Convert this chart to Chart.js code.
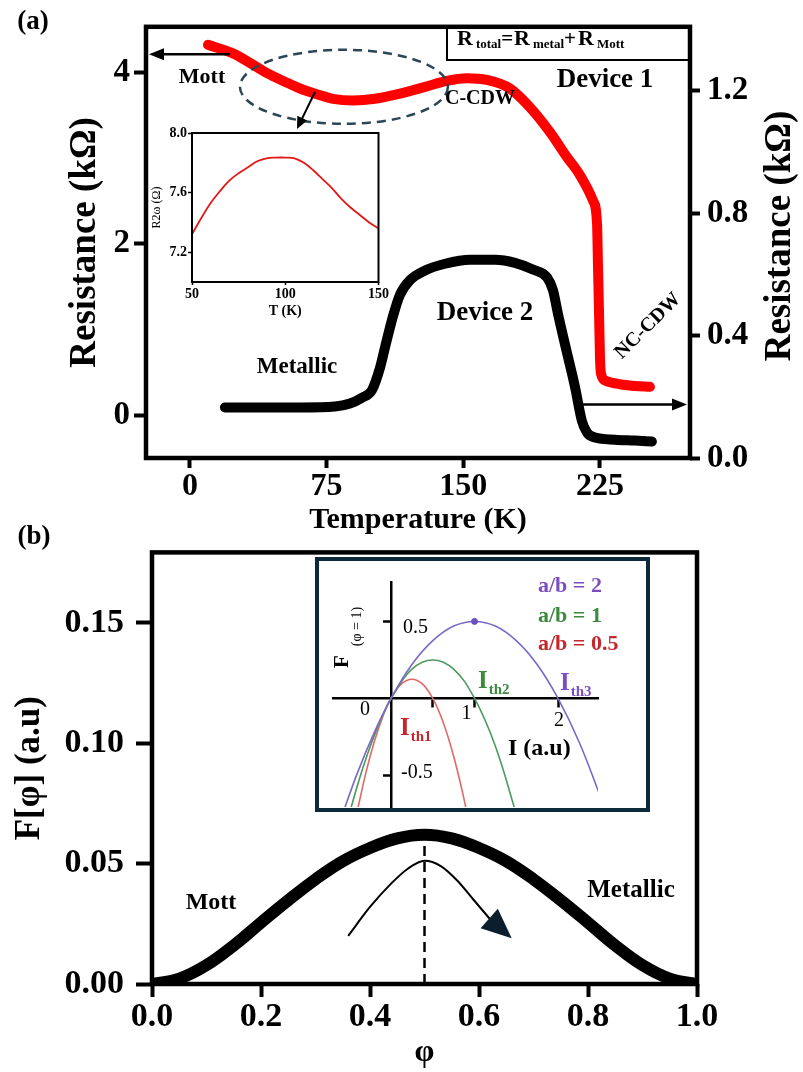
<!DOCTYPE html>
<html>
<head>
<meta charset="utf-8">
<script src="https://cdn.jsdelivr.net/npm/chart.js@4.4.1/dist/chart.umd.min.js"></script>
<style>
  html, body { margin: 0; padding: 0; background: #fff; width: 803px; height: 1072px; overflow: hidden; }
  canvas { position: absolute; }
</style>
</head>
<body>
<canvas id="cA" width="803" height="540" style="left:0;top:0"></canvas>
<canvas id="cAin" width="260" height="210" style="left:130px;top:120px"></canvas>
<canvas id="cB" width="803" height="552" style="left:0;top:520px"></canvas>
<canvas id="cBin" width="335" height="255" style="left:315px;top:557px"></canvas>
<script>
// ---- panel (a): R vs T ----
const tempDev1 = [9.9, 23.6, 32.9, 42.3, 52.1, 60.4, 70.2, 78.5, 89.5, 101.5, 115.2, 129, 141, 152, 163, 175.6, 186.6, 197.6, 206.9, 214, 221.2, 223.4, 223.9, 224.5, 225, 225.6, 228.3, 236, 244.2, 252.4];
const resDev1 = [4.32, 4.22, 4.11, 3.99, 3.89, 3.81, 3.74, 3.69, 3.67, 3.69, 3.75, 3.83, 3.90, 3.93, 3.91, 3.81, 3.59, 3.30, 3.01, 2.80, 2.50, 2.23, 1.75, 1.18, 0.67, 0.48, 0.40, 0.36, 0.34, 0.33];
const tempDev2 = [19.2, 38.4, 60.4, 79.6, 87.8, 94.4, 99.9, 104.3, 107.6, 111.4, 115.2, 120.7, 129, 140, 153.7, 167.4, 178.4, 188.2, 196, 199.2, 202, 206.3, 211.3, 215.1, 217.9, 222.3, 233.2, 244.2, 253.5];
const resDev2 = [0.165, 0.165, 0.165, 0.168, 0.178, 0.197, 0.222, 0.295, 0.375, 0.463, 0.533, 0.581, 0.613, 0.635, 0.648, 0.648, 0.638, 0.616, 0.590, 0.549, 0.470, 0.359, 0.232, 0.121, 0.083, 0.067, 0.060, 0.057, 0.054];
const tickTemp = [0, 75, 150, 225];
const tickResLeft = [0, 2, 4];
const tickResRight = [0, 0.4, 0.8, 1.2];

// inset (a): R2w vs T
const tempInset = [50, 55, 60, 65, 70, 75, 80, 85, 90, 95, 100, 105, 110, 115, 120, 125, 130, 135, 140, 145, 150];
const r2wInset = [7.32, 7.43, 7.53, 7.61, 7.68, 7.73, 7.77, 7.81, 7.83, 7.835, 7.835, 7.83, 7.80, 7.75, 7.69, 7.63, 7.56, 7.50, 7.45, 7.40, 7.36];
const tickInsetT = [50, 100, 150];
const tickInsetR = [7.2, 7.6, 8.0];

// ---- panel (b): F[phi] ----
const phiVals = [0, 0.05, 0.1, 0.15, 0.2, 0.25, 0.3, 0.35, 0.4, 0.45, 0.5, 0.55, 0.6, 0.65, 0.7, 0.75, 0.8, 0.85, 0.9, 0.95, 1.0];
const fVals = [0, 0.0022, 0.0078, 0.0160, 0.0255, 0.0348, 0.0435, 0.0510, 0.0565, 0.0605, 0.0620, 0.0605, 0.0565, 0.0510, 0.0435, 0.0348, 0.0255, 0.0160, 0.0078, 0.0022, 0];
const arrowPhi = [0.36, 0.40, 0.44, 0.47, 0.50, 0.53, 0.56, 0.59, 0.62];
const arrowF = [0.020, 0.032, 0.042, 0.048, 0.0512, 0.049, 0.043, 0.035, 0.027];
const tickPhi = [0, 0.2, 0.4, 0.6, 0.8, 1.0];
const tickF = [0, 0.05, 0.10, 0.15];

// inset (b): F vs I for a/b = 2, 1, 0.5
const iPurple = [-0.6, -0.4, -0.2, 0, 0.25, 0.5, 0.75, 1, 1.25, 1.5, 1.75, 2, 2.25, 2.5];
const fPurple = [-0.78, -0.48, -0.22, 0, 0.22, 0.375, 0.47, 0.5, 0.47, 0.375, 0.22, 0, -0.28, -0.625];
const iGreen = [-0.5, -0.4, -0.3, -0.2, -0.1, 0, 0.25, 0.5, 0.75, 1, 1.25, 1.5];
const fGreen = [-0.75, -0.56, -0.39, -0.24, -0.11, 0, 0.19, 0.25, 0.19, 0, -0.31, -0.75];
const iRed = [-0.4, -0.3, -0.2, -0.1, 0, 0.125, 0.25, 0.375, 0.5, 0.625, 0.75, 0.875, 1.0];
const fRed = [-0.72, -0.48, -0.28, -0.12, 0, 0.094, 0.125, 0.094, 0, -0.156, -0.375, -0.656, -1.0];

const FONT = "'Liberation Serif', 'Times New Roman', serif";
Chart.defaults.font.family = FONT;
Chart.defaults.color = '#000';

const bold = s => ({ family: FONT, size: s, weight: 'bold' });
const pts = (xs, ys) => xs.map((v, i) => ({ x: v, y: ys[i] }));
const setTicks = list => s => { s.ticks = list.map(v => ({ value: v })); };
const tickGrid = (len, w) => ({ drawOnChartArea: false, tickLength: len, tickWidth: w, tickColor: '#000' });

function txt(ctx, s, x, y, size, opt = {}) {
  ctx.save();
  ctx.font = `${opt.weight || 'bold'} ${size}px ${FONT}`;
  ctx.fillStyle = opt.color || '#000';
  ctx.textAlign = opt.align || 'center';
  ctx.textBaseline = opt.baseline || 'middle';
  ctx.translate(x, y);
  if (opt.rot) ctx.rotate(opt.rot);
  ctx.fillText(s, 0, 0);
  ctx.restore();
}

// draws pieces left to right on one baseline, returns end x
function seq(ctx, parts, x, y) {
  ctx.save();
  ctx.textAlign = 'left';
  ctx.textBaseline = 'alphabetic';
  parts.forEach(p => {
    ctx.font = `${p.w || 'bold'} ${p.size}px ${FONT}`;
    ctx.fillStyle = p.color || '#000';
    ctx.fillText(p.t, x, y + (p.dy || 0));
    x += ctx.measureText(p.t).width + (p.gap || 0);
  });
  ctx.restore();
  return x;
}

function arrow(ctx, x1, y1, x2, y2, len, half, color, lw) {
  const a = Math.atan2(y2 - y1, x2 - x1), c = Math.cos(a), s = Math.sin(a);
  ctx.save();
  ctx.strokeStyle = color; ctx.fillStyle = color; ctx.lineWidth = lw;
  ctx.beginPath(); ctx.moveTo(x1, y1); ctx.lineTo(x2 - c * len * 0.8, y2 - s * len * 0.8); ctx.stroke();
  ctx.beginPath(); ctx.moveTo(x2, y2);
  ctx.lineTo(x2 - c * len - s * half, y2 - s * len + c * half);
  ctx.lineTo(x2 - c * len + s * half, y2 - s * len - c * half);
  ctx.closePath(); ctx.fill();
  ctx.restore();
}

// ---------- panel (a) main ----------
const annotA = {
  id: 'annotA',
  afterDraw(chart) {
    const { ctx, chartArea: a, scales: { x, y, y1 } } = chart;
    ctx.save();
    ctx.strokeStyle = '#000';
    ctx.lineWidth = 4.5;
    ctx.strokeRect(a.left, a.top, a.right - a.left, a.bottom - a.top);
    // equation box
    ctx.lineWidth = 2;
    ctx.strokeRect(447, a.top, a.right - 447, 60 - a.top);
    seq(ctx, [
      { t: 'R', size: 22, gap: 3 }, { t: 'total', size: 13, dy: 3 }, { t: '=', size: 21, gap: 1 },
      { t: 'R', size: 22, gap: 3 }, { t: 'metal', size: 13, dy: 3 }, { t: '+', size: 21, gap: 2 },
      { t: 'R', size: 22, gap: 3 }, { t: 'Mott', size: 13, dy: 3 }
    ], 457, 45);
    ctx.restore();

    // dashed ellipse around the Mott / C-CDW region
    ctx.save();
    ctx.strokeStyle = '#2b4756'; ctx.lineWidth = 2.5; ctx.setLineDash([9, 6]);
    ctx.beginPath();
    ctx.ellipse(x.getPixelForValue(84.5), y.getPixelForValue(3.83), 104, 37, 0, 0, Math.PI * 2);
    ctx.stroke();
    ctx.restore();

    // axis arrows
    const yl = y.getPixelForValue(4.21);
    arrow(ctx, x.getPixelForValue(22), yl, a.left + 3, yl, 15, 6, '#000', 2.5);
    const yr = y1.getPixelForValue(0.175);
    arrow(ctx, x.getPixelForValue(214), yr, a.right - 3, yr, 15, 6, '#000', 2.5);
    arrow(ctx, 315, 92, 297, 129, 12, 5.5, '#000', 2);

    txt(ctx, '(a)', 33, 22, 27);
    txt(ctx, 'Mott', 202, 77, 22);
    txt(ctx, 'C-CDW', 480, 99, 20);
    txt(ctx, 'Device 1', 605, 80, 27);
    txt(ctx, 'Device 2', 485, 313, 27);
    txt(ctx, 'Metallic', 297, 367, 23);
    txt(ctx, 'NC-CDW', 648, 326, 20, { rot: -Math.PI / 4 });
    txt(ctx, 'Resistance (k\u03A9)', 780, 236, 37, { rot: -Math.PI / 2 });
  }
};

new Chart(document.getElementById('cA'), {
  type: 'line',
  data: {
    datasets: [
      { label: 'Device 1', data: pts(tempDev1, resDev1), yAxisID: 'y', borderColor: '#ff0000', borderWidth: 10,
        pointRadius: 0, cubicInterpolationMode: 'monotone', borderCapStyle: 'round', borderJoinStyle: 'round' },
      { label: 'Device 2', data: pts(tempDev2, resDev2), yAxisID: 'y1', borderColor: '#000', borderWidth: 10,
        pointRadius: 0, cubicInterpolationMode: 'monotone', borderCapStyle: 'round', borderJoinStyle: 'round' }
    ]
  },
  options: {
    responsive: false, animation: false, events: [],
    layout: { padding: { top: 14, left: 0, right: 0, bottom: 0 } },
    plugins: { legend: { display: false }, tooltip: { enabled: false } },
    scales: {
      x: {
        type: 'linear', min: -24.1, max: 274.4, afterBuildTicks: setTicks(tickTemp),
        ticks: { font: bold(32), padding: 0, maxRotation: 0 },
        grid: tickGrid(10, 4), border: { display: false },
        title: { display: true, text: 'Temperature (K)', font: bold(30), padding: { top: 0, bottom: 2 } },
        afterFit: s => { s.height = 82; }
      },
      y: {
        position: 'left', min: -0.5, max: 4.53, afterBuildTicks: setTicks(tickResLeft),
        ticks: { font: bold(33), padding: 4 },
        grid: tickGrid(12, 4), border: { display: false },
        title: { display: true, text: 'Resistance (k\u03A9)', font: bold(37), padding: { top: 63, bottom: 0 } },
        afterFit: s => { s.width = 146; }
      },
      y1: {
        position: 'right', min: 0, max: 1.4095, afterBuildTicks: setTicks(tickResRight),
        ticks: { font: bold(33), padding: 7, callback: v => v.toFixed(1) },
        grid: tickGrid(10, 4), border: { display: false },
        afterFit: s => { s.width = 113; }
      }
    }
  },
  plugins: [annotA]
});

// ---------- panel (a) inset ----------
const frameAin = {
  id: 'frameAin',
  afterDraw(chart) {
    const { ctx, chartArea: a } = chart;
    ctx.save();
    ctx.strokeStyle = '#000'; ctx.lineWidth = 2;
    ctx.strokeRect(a.left, a.top, a.right - a.left, a.bottom - a.top);
    ctx.restore();
  }
};

new Chart(document.getElementById('cAin'), {
  type: 'line',
  data: { datasets: [{ data: pts(tempInset, r2wInset), borderColor: '#e01818', borderWidth: 1.8, pointRadius: 0, tension: 0.4 }] },
  options: {
    responsive: false, animation: false, events: [],
    layout: { padding: { top: 13, right: 10, left: 0, bottom: 0 } },
    plugins: { legend: { display: false }, tooltip: { enabled: false } },
    scales: {
      x: {
        type: 'linear', min: 50, max: 150, afterBuildTicks: setTicks(tickInsetT),
        ticks: { font: bold(14), padding: 1, maxRotation: 0 },
        grid: tickGrid(3, 1.5), border: { display: false },
        title: { display: true, text: 'T (K)', font: bold(14), padding: { top: 0, bottom: 10 } },
        afterFit: s => { s.height = 48; }
      },
      y: {
        min: 7.0, max: 8.0, afterBuildTicks: setTicks(tickInsetR),
        ticks: { font: bold(14), padding: 1, callback: v => v.toFixed(1) },
        grid: tickGrid(4, 1.5), border: { display: false },
        title: { display: true, text: 'R2\u03C9 (\u03A9)', font: { family: FONT, size: 12 }, padding: { top: 20, bottom: 0 } },
        afterFit: s => { s.width = 62; }
      }
    }
  },
  plugins: [frameAin]
});

// ---------- panel (b) main ----------
const annotB = {
  id: 'annotB',
  afterDraw(chart) {
    const { ctx, chartArea: a, scales: { x, y } } = chart;
    ctx.save();
    ctx.strokeStyle = '#000'; ctx.lineWidth = 4.5;
    ctx.strokeRect(a.left, a.top, a.right - a.left, a.bottom - a.top);
    ctx.restore();

    // arrow head at the end of the curved arrow
    const n = arrowPhi.length - 1;
    const bx = x.getPixelForValue(arrowPhi[n]), by = y.getPixelForValue(arrowF[n]);
    const tx = x.getPixelForValue(0.66), ty = y.getPixelForValue(0.019);
    arrow(ctx, bx, by, tx, ty, 30, 13, '#0b1e2b', 0.1);

    txt(ctx, '(b)', 34, 17, 27);
    txt(ctx, 'Mott', 211, 383, 24);
    txt(ctx, 'Metallic', 631, 371, 25);
  }
};

new Chart(document.getElementById('cB'), {
  type: 'line',
  data: {
    datasets: [
      { data: pts(phiVals, fVals), borderColor: '#000', borderWidth: 12, pointRadius: 0, tension: 0.4, clip: 0 },
      { data: pts([0.5, 0.5], [0, 0.0622]), borderColor: '#000', borderWidth: 2.5, borderDash: [10, 6], pointRadius: 0 },
      { data: pts(arrowPhi, arrowF), borderColor: '#000', borderWidth: 2, pointRadius: 0, cubicInterpolationMode: 'monotone' }
    ]
  },
  options: {
    responsive: false, animation: false, events: [],
    layout: { padding: { top: 23, right: 106, left: 0, bottom: 0 } },
    plugins: { legend: { display: false }, tooltip: { enabled: false } },
    scales: {
      x: {
        type: 'linear', min: 0, max: 1, afterBuildTicks: setTicks(tickPhi),
        ticks: { font: bold(34), padding: 0, maxRotation: 0, callback: v => v.toFixed(1) },
        grid: tickGrid(13, 4), border: { display: false },
        title: { display: true, text: '\u03C6', font: bold(32), padding: { top: 0, bottom: 0 } },
        afterFit: s => { s.height = 88; }
      },
      y: {
        min: 0, max: 0.1793, afterBuildTicks: setTicks(tickF),
        ticks: { font: bold(34), padding: 12, callback: v => v.toFixed(2) },
        grid: tickGrid(16, 4), border: { display: false },
        title: { display: true, text: 'F[\u03C6] (a.u)', font: bold(35), padding: { top: 9, bottom: 0 } },
        afterFit: s => { s.width = 152; }
      }
    }
  },
  plugins: [annotB]
});

// ---------- panel (b) inset ----------
const insetB = {
  id: 'insetB',
  beforeDraw(chart) {
    const { ctx, width, height } = chart;
    ctx.save(); ctx.fillStyle = '#fff'; ctx.fillRect(0, 0, width, height); ctx.restore();
  },
  afterDraw(chart) {
    const { ctx, width, height, scales: { x, y } } = chart;
    ctx.save();
    ctx.strokeStyle = '#0d2a3a'; ctx.lineWidth = 4;
    ctx.strokeRect(2, 2, width - 4, height - 4);
    ctx.restore();

    const x0 = x.getPixelForValue(0), y0 = y.getPixelForValue(0);
    const reg = { weight: 'normal', align: 'left' };
    txt(ctx, '0.5', x0 + 12, y.getPixelForValue(0.5) + 6, 20, reg);
    txt(ctx, '-0.5', x0 + 10, y.getPixelForValue(-0.5) - 3, 20, reg);
    txt(ctx, '0', x0 - 26, y0 + 11, 20, { weight: 'normal' });
    txt(ctx, '1', x.getPixelForValue(1) - 8, y0 + 15, 20, { weight: 'normal' });
    txt(ctx, '2', x.getPixelForValue(2) + 1, y0 + 22, 20, { weight: 'normal' });

    seq(ctx, [{ t: 'a/b = 2', size: 22, color: '#7b4fbf' }], 223, 35);
    seq(ctx, [{ t: 'a/b = 1', size: 22, color: '#3b8a3e' }], 223, 65);
    seq(ctx, [{ t: 'a/b = 0.5', size: 22, color: '#c4262b' }], 223, 93);

    seq(ctx, [{ t: 'I', size: 25, color: '#c4262b', gap: 1 }, { t: 'th1', size: 15, dy: 6, color: '#c4262b' }], 85, 178);
    seq(ctx, [{ t: 'I', size: 25, color: '#3b8a3e', gap: 1 }, { t: 'th2', size: 15, dy: 6, color: '#3b8a3e' }], 163, 131);
    seq(ctx, [{ t: 'I', size: 25, color: '#7b4fbf', gap: 1 }, { t: 'th3', size: 15, dy: 6, color: '#7b4fbf' }], 245, 133);
    seq(ctx, [{ t: 'I (a.u)', size: 24 }], 193, 198);

    // rotated axis title F(phi = 1)
    ctx.save();
    ctx.translate(33, 111);
    ctx.rotate(-Math.PI / 2);
    seq(ctx, [{ t: 'F', size: 21, gap: 9 }, { t: '(\u03C6 = 1)', size: 14, w: 'normal', dy: 13 }], 0, 0);
    ctx.restore();
  }
};

new Chart(document.getElementById('cBin'), {
  type: 'line',
  data: {
    datasets: [
      { data: pts([1], [0.5]), borderColor: '#6a4fc0', backgroundColor: '#6a4fc0', pointRadius: 3, showLine: false },
      { data: pts(iPurple, fPurple), borderColor: '#7b68c8', borderWidth: 1.6, pointRadius: 0, tension: 0.4 },
      { data: pts(iGreen, fGreen), borderColor: '#4c9a5c', borderWidth: 1.6, pointRadius: 0, tension: 0.4 },
      { data: pts(iRed, fRed), borderColor: '#e06a66', borderWidth: 1.6, pointRadius: 0, tension: 0.4 }
    ]
  },
  options: {
    responsive: false, animation: false, events: [],
    layout: { padding: { left: 18, top: 25, right: 52, bottom: 2 } },
    plugins: { legend: { display: false }, tooltip: { enabled: false } },
    scales: {
      x: {
        type: 'linear', min: -0.695, max: 2.479, position: { y: 0 }, afterBuildTicks: setTicks([0.5, 1, 2]),
        ticks: { display: false }, grid: tickGrid(8, 2.5), border: { color: '#000', width: 2.5 }
      },
      y: {
        min: -0.705, max: 0.756, position: { x: 0 }, afterBuildTicks: setTicks([-0.5, 0.5]),
        ticks: { display: false }, grid: tickGrid(7, 2.5), border: { color: '#000', width: 2.5 }
      }
    }
  },
  plugins: [insetB]
});
</script>
</body>
</html>
